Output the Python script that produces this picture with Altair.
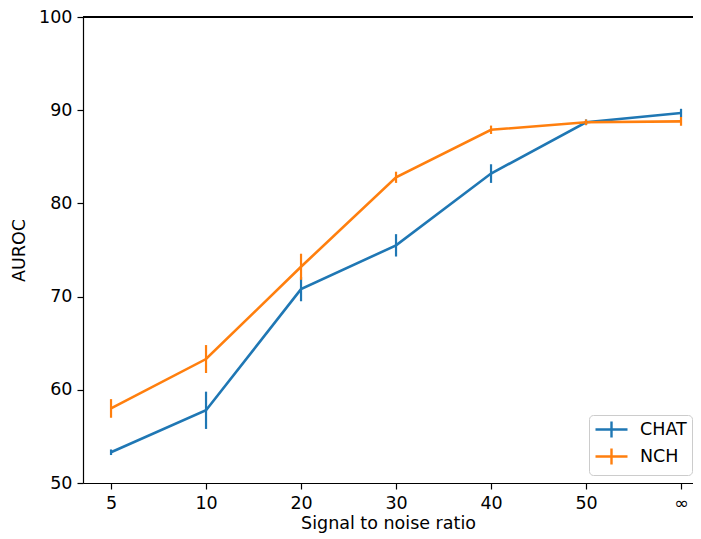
import altair as alt
import pandas as pd

snr_labels = ["5", "10", "20", "30", "40", "50", "∞"]
chat_mean = [53.3, 57.8, 70.8, 75.5, 83.2, 88.7, 89.7]
chat_err = [0.3, 2.0, 1.3, 1.2, 1.0, 0.3, 0.45]
nch_mean = [58.0, 63.3, 73.2, 82.8, 87.9, 88.7, 88.8]
nch_err = [1.0, 1.5, 1.4, 0.6, 0.45, 0.3, 0.47]

rows = []
for name, means, errs in [("CHAT", chat_mean, chat_err), ("NCH", nch_mean, nch_err)]:
    for i, (m, e) in enumerate(zip(means, errs)):
        rows.append({"pos": i, "label": snr_labels[i], "series": name,
                     "auroc": m, "lo": m - e, "hi": m + e})
df = pd.DataFrame(rows)

label_expr = "[" + ",".join(f"'{s}'" for s in snr_labels) + "][datum.value]"

legend = alt.Legend(title=None, orient="none", legendX=506, legendY=398,
                    symbolType="M-2,0H2M0,-1V1", symbolSize=256,
                    symbolStrokeWidth=2.4, symbolOffset=8, labelOffset=19,
                    labelFontSize=17.5, labelFont="DejaVu Sans",
                    labelColor="#000", padding=5, rowPadding=0,
                    fillColor="rgba(255,255,255,0.8)", strokeColor="#cccccc",
                    cornerRadius=4, offset=0)
color = alt.Color("series:N",
                  scale=alt.Scale(domain=["CHAT", "NCH"], range=["#1f77b4", "#ff7f0e"]),
                  legend=legend)

x = alt.X("pos:Q",
          scale=alt.Scale(domain=[-0.295, 6.126], nice=False, zero=False),
          axis=alt.Axis(values=list(range(7)), labelExpr=label_expr,
                        title="Signal to noise ratio", grid=False))
y = alt.Y("auroc:Q", scale=alt.Scale(domain=[50, 100], nice=False, zero=False),
          axis=alt.Axis(values=[50, 60, 70, 80, 90, 100], title="AUROC", grid=False))

errs = alt.Chart(df).mark_rule(strokeWidth=2.2).encode(
    x=x, y="lo:Q", y2="hi:Q", color=color)
lines = alt.Chart(df).mark_line(strokeWidth=2.6).encode(x=x, y=y, color=color, order="pos:Q")
top = alt.Chart(df).mark_rule(color="#000", strokeWidth=1.2).encode(
    x=alt.value(0), x2=alt.value(640), y=alt.value(0))

chart = alt.layer(lines, errs, top).properties(
    width=610, height=466,
    autosize=alt.AutoSizeParams(type="none"),
    padding={"left": 75, "top": 9, "right": 0, "bottom": 51},
).configure_view(stroke=None).configure_axis(
    labelFont="DejaVu Sans", titleFont="DejaVu Sans", labelFontSize=17.5, titleFontSize=17.5,
    titleFontWeight="normal", labelColor="#000", titleColor="#000",
    domainColor="#000", tickColor="#000", domainWidth=1.2, tickWidth=1.2, tickSize=6,
    labelPadding=5,
).configure_axisY(titlePadding=10).configure_axisX(titlePadding=3)

chart.save("out.html", embed_options={"renderer": "svg", "actions": False})
